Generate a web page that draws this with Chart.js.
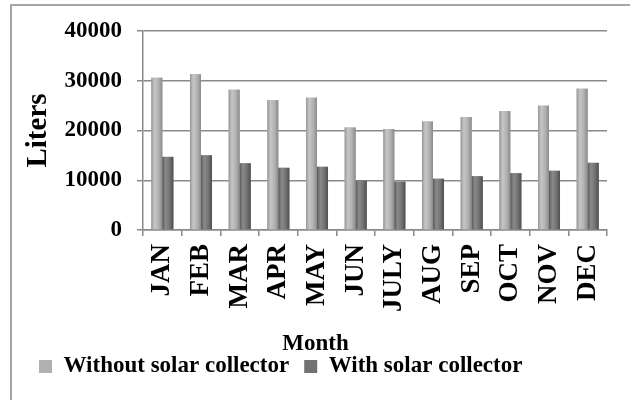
<!DOCTYPE html>
<html><head><meta charset="utf-8">
<script src="https://cdn.jsdelivr.net/npm/chart.js@4/dist/chart.umd.min.js"></script>
<style>
html,body{margin:0;padding:0;background:#fff;overflow:hidden;width:630px;height:400px}
#frame{position:absolute;left:10px;top:4px;width:700px;height:500px;border:2px solid #a6a6a6;box-sizing:border-box}
#wrap{position:absolute;left:0;top:0;width:630px;height:400px}
</style></head><body>
<div id="frame"></div>
<div id="wrap"><canvas id="c" width="630" height="400"></canvas></div>
<script>
const months = ['JAN','FEB','MAR','APR','MAY','JUN','JULY','AUG','SEP','OCT','NOV','DEC'];
const withoutSolar = [30600,31300,28200,26100,26600,20600,20300,21800,22700,23900,25000,28400];
const withSolar = [14700,15000,13400,12500,12700,9900,9700,10300,10800,11400,11900,13500];
const seriesNames = ['Without solar collector','With solar collector'];
const yAxisTitle = 'Liters';
const xAxisTitle = 'Month';

const shades = [
  ['#979797','#c6c6c6','#b2b2b2','#8a8a8a'],
  ['#5a5a5a','#8a8a8a','#747474','#4e4e4e']
];
const FONT = '"Liberation Serif","Times New Roman",serif';

const cylinderPlugin = {
  id: 'cyl',
  afterDatasetsDraw(chart) {
    const ctx = chart.ctx;
    chart.data.datasets.forEach((ds, i) => {
      const meta = chart.getDatasetMeta(i);
      const s = shades[i];
      meta.data.forEach(bar => {
        const p = bar.getProps(['x','y','base','width'], true);
        const l = p.x - p.width / 2;
        const g = ctx.createLinearGradient(l, 0, l + p.width, 0);
        g.addColorStop(0, s[0]); g.addColorStop(0.3, s[1]); g.addColorStop(0.65, s[2]); g.addColorStop(1, s[3]);
        ctx.save();
        ctx.fillStyle = g;
        ctx.fillRect(l, p.y, p.width, p.base - p.y);
        ctx.restore();
      });
    });
  }
};

new Chart(document.getElementById('c'), {
  type: 'bar',
  data: {
    labels: months,
    datasets: [
      {label: seriesNames[0], data: withoutSolar, backgroundColor: '#b0b0b0', categoryPercentage: 0.57, barPercentage: 1},
      {label: seriesNames[1], data: withSolar, backgroundColor: '#727272', categoryPercentage: 0.57, barPercentage: 1}
    ]
  },
  options: {
    responsive: false,
    animation: false,
    devicePixelRatio: 1,
    layout: {padding: {left: 24, right: 23, top: 31, bottom: 12}},
    plugins: {
      tooltip: {enabled: false},
      title: {
        display: true, text: xAxisTitle, position: 'bottom', weight: 500,
        color: '#000', padding: {top: 0, bottom: -16},
        font: {family: FONT, size: 23, weight: 'bold', lineHeight: 1}
      },
      legend: {
        position: 'bottom', align: 'start', weight: 1000,
        labels: {
          color: '#000', boxWidth: 13, boxHeight: 13, padding: 15,
          font: {family: FONT, size: 23, weight: 'bold', lineHeight: 1}
        }
      }
    },
    scales: {
      x: {
        grid: {drawOnChartArea: false, color: '#8a8a8a', lineWidth: 1.5, tickLength: 6, offset: true},
        border: {color: '#8a8a8a', width: 1.5},
        ticks: {color: '#000', minRotation: 90, maxRotation: 90, padding: 8, autoSkip: false,
          font: {family: FONT, size: 27, weight: 'bold'}},
        afterFit(scale) { scale.height = 103; }
      },
      y: {
        min: 0, max: 40000,
        grid: {color: '#8a8a8a', lineWidth: 1.5, tickLength: 6},
        border: {color: '#8a8a8a', width: 1.5},
        ticks: {color: '#000', stepSize: 10000, padding: 15,
          callback: v => String(v),
          font: {family: FONT, size: 23, weight: 'bold'}},
        title: {display: true, text: yAxisTitle, color: '#000', padding: 0,
          font: {family: FONT, size: 29, weight: 'bold', lineHeight: 1}},
        afterFit(scale) { scale.width = 119; }
      }
    }
  },
  plugins: [cylinderPlugin]
});
</script>
</body></html>
